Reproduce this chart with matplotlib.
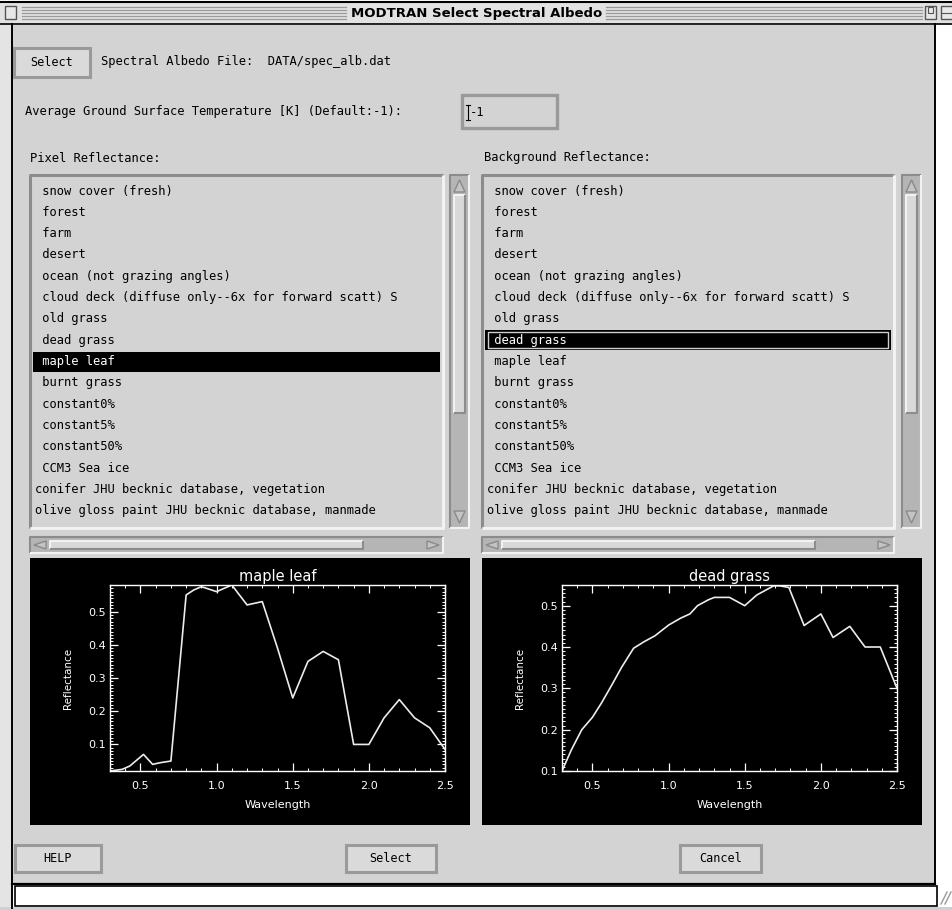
import matplotlib
matplotlib.use("Agg")
import matplotlib.pyplot as plt
from matplotlib.patches import Rectangle, Polygon
from matplotlib.ticker import MultipleLocator

W, H = 953, 910
PANEL = "#d3d3d3"
LIGHT = "#f2f2f2"
DARK = "#8c8c8c"
TROUGH = "#b5b5b5"
MONO = "DejaVu Sans Mono"

WINDOW_TITLE = "MODTRAN Select Spectral Albedo"
FILE_LABEL = "Spectral Albedo File:  DATA/spec_alb.dat"
TEMP_LABEL = "Average Ground Surface Temperature [K] (Default:-1):"
TEMP_VALUE = "-1"
PIXEL_LABEL = "Pixel Reflectance:"
BACKGROUND_LABEL = "Background Reflectance:"

# list entries (leading blank is part of the entry, as in the X list widget)
SURFACES = [
    " snow cover (fresh)",
    " forest",
    " farm",
    " desert",
    " ocean (not grazing angles)",
    " cloud deck (diffuse only--6x for forward scatt) S",
    " old grass",
    " dead grass",
    " maple leaf",
    " burnt grass",
    " constant0%",
    " constant5%",
    " constant50%",
    " CCM3 Sea ice",
    "conifer JHU becknic database, vegetation",
    "olive gloss paint JHU becknic database, manmade",
]
PIXEL_PICK = 8
BACKGROUND_PICK = 7

# spectra (wavelength in micron)
MAPLE_WL = [0.30, 0.38, 0.43, 0.52, 0.58, 0.63, 0.70, 0.80, 0.85, 0.90,
            1.00, 1.10, 1.20, 1.30, 1.40, 1.50, 1.60, 1.70, 1.80, 1.90,
            2.00, 2.10, 2.20, 2.30, 2.40, 2.50]
MAPLE_REFL = [0.020, 0.025, 0.035, 0.070, 0.040, 0.045, 0.050, 0.550, 0.565, 0.575,
              0.560, 0.580, 0.520, 0.530, 0.390, 0.240, 0.350, 0.380, 0.355, 0.100,
              0.100, 0.180, 0.235, 0.180, 0.150, 0.085]

DEAD_WL = [0.30, 0.36, 0.43, 0.50, 0.56, 0.63, 0.69, 0.77, 0.84, 0.91,
           1.00, 1.08, 1.14, 1.19, 1.26, 1.30, 1.40, 1.50, 1.58, 1.65,
           1.69, 1.73, 1.79, 1.89, 2.00, 2.08, 2.19, 2.29, 2.39, 2.50]
DEAD_REFL = [0.100, 0.150, 0.200, 0.230, 0.265, 0.310, 0.350, 0.397, 0.413, 0.427,
             0.453, 0.470, 0.480, 0.500, 0.514, 0.520, 0.520, 0.500, 0.526, 0.540,
             0.548, 0.548, 0.544, 0.452, 0.480, 0.423, 0.450, 0.400, 0.400, 0.300]

X_TICKS = [0.5, 1.0, 1.5, 2.0, 2.5]
Y_TICKS = [0.1, 0.2, 0.3, 0.4, 0.5]


def fig_rect(x0, y0, x1, y1):
    return [x0 / W, 1 - y1 / H, (x1 - x0) / W, (y1 - y0) / H]


def bevel(ax, x0, y0, x1, y1, face=PANEL, sunken=False, lw=1.5):
    ax.add_patch(Rectangle((x0, y0), x1 - x0, y1 - y0, facecolor=face, edgecolor="none"))
    hi, lo = (DARK, LIGHT) if sunken else (LIGHT, DARK)
    ax.plot([x0, x0, x1], [y1, y0, y0], color=hi, lw=lw, solid_capstyle="butt")
    ax.plot([x0, x1, x1], [y1, y1, y0], color=lo, lw=lw, solid_capstyle="butt")


def button(ax, x0, y0, x1, y1, label):
    ax.add_patch(Rectangle((x0, y0), x1 - x0, y1 - y0, facecolor="#dadada",
                           edgecolor="#9a9a9a", lw=2.2))
    ax.text((x0 + x1) / 2, (y0 + y1) / 2, label, family=MONO, fontsize=8.5,
            ha="center", va="center", color="black")


def arrow(ax, pts):
    ax.add_patch(Polygon(pts, closed=True, facecolor="#c4c4c4", edgecolor="#8a8a8a", lw=1))


def vscroll(ax, x0, y0, x1, y1, t0, t1):
    bevel(ax, x0, y0, x1, y1, face=TROUGH, sunken=True)
    xc = (x0 + x1) / 2
    arrow(ax, [(xc, y0 + 5), (x0 + 4, y0 + 17), (x1 - 4, y0 + 17)])
    arrow(ax, [(xc, y1 - 5), (x0 + 4, y1 - 17), (x1 - 4, y1 - 17)])
    bevel(ax, x0 + 4, t0, x1 - 4, t1, face="#d9d9d9")


def hscroll(ax, x0, y0, x1, y1, t0, t1):
    bevel(ax, x0, y0, x1, y1, face=TROUGH, sunken=True)
    yc = (y0 + y1) / 2
    arrow(ax, [(x0 + 4, yc), (x0 + 16, y0 + 4), (x0 + 16, y1 - 4)])
    arrow(ax, [(x1 - 4, yc), (x1 - 16, y0 + 4), (x1 - 16, y1 - 4)])
    bevel(ax, t0, y0 + 4, t1, y1 - 4, face="#d9d9d9")


def listbox(ax, x0, y0, x1, y1, items, pick, focus=False):
    bevel(ax, x0, y0, x1, y1, sunken=True, lw=2.2)
    clip = Rectangle((x0 + 2, y0), x1 - x0 - 4, y1 - y0, transform=ax.transData)
    step = 21.33
    for i, name in enumerate(items):
        yc = y0 + 16 + i * step
        color = "black"
        if i == pick:
            ax.add_patch(Rectangle((x0 + 3, yc - 10), x1 - x0 - 6, 20,
                                   facecolor="black", edgecolor="none"))
            if focus:
                ax.add_patch(Rectangle((x0 + 6, yc - 8), x1 - x0 - 12, 16,
                                       facecolor="none", edgecolor="#cfcfcf", lw=1))
            color = "white"
        t = ax.text(x0 + 5, yc, name, family=MONO, fontsize=8.7,
                    ha="left", va="center", color=color)
        t.set_clip_path(clip)


def spectrum(fig, box, axbox, wl, refl, title, ylim):
    bg = fig.add_axes(fig_rect(*box))
    bg.set_facecolor("black")
    bg.set_xticks([])
    bg.set_yticks([])
    for s in bg.spines.values():
        s.set_visible(False)

    ax = fig.add_axes(fig_rect(*axbox))
    ax.set_facecolor("black")
    ax.plot(wl, refl, color="#ececec", lw=1.2)
    ax.set_xlim(0.3, 2.5)
    ax.set_ylim(*ylim)
    ax.set_xticks(X_TICKS)
    ax.set_xticklabels([f"{v:.1f}" for v in X_TICKS])
    ax.set_yticks(Y_TICKS)
    ax.set_yticklabels([f"{v:.1f}" for v in Y_TICKS])
    ax.xaxis.set_minor_locator(MultipleLocator(0.1))
    ax.yaxis.set_minor_locator(MultipleLocator(0.01))
    ax.tick_params(which="both", direction="in", colors="white",
                   top=True, right=True, labelsize=8)
    ax.tick_params(which="major", length=6, width=0.9)
    ax.tick_params(which="minor", length=2.5, width=0.7)
    ax.tick_params(axis="x", pad=7)
    ax.tick_params(axis="y", pad=3)
    for s in ax.spines.values():
        s.set_color("white")
        s.set_linewidth(1.0)
    ax.set_title(title, color="white", fontsize=10.5, pad=3)
    ax.set_xlabel("Wavelength", color="white", fontsize=8)
    ax.set_ylabel("Reflectance", color="white", fontsize=7.5)
    ax.xaxis.set_label_coords(0.5, -0.185)
    ax.xaxis.label.set_va("center")
    ax.yaxis.set_label_coords(-0.125, 0.5)
    ax.yaxis.label.set_va("center")


def main():
    fig = plt.figure(figsize=(W / 100, H / 100), dpi=100)
    fig.patch.set_facecolor("white")
    ax = fig.add_axes([0, 0, 1, 1])
    ax.set_xlim(0, W)
    ax.set_ylim(H, 0)
    ax.axis("off")

    # window title bar
    ax.add_patch(Rectangle((0, 2), W, 22, facecolor="#e2e2e2", edgecolor="none"))
    ax.plot([0, W], [2, 2], color="black", lw=1.5)
    ax.plot([0, W], [24, 24], color="black", lw=1.2)
    for yy in (7, 10, 13, 16, 19):
        ax.plot([22, 346], [yy, yy], color="#9a9a9a", lw=0.9)
        ax.plot([606, 922], [yy, yy], color="#9a9a9a", lw=0.9)
    ax.add_patch(Rectangle((5, 6), 11, 13, facecolor="#e8e8e8", edgecolor="#555555", lw=1))
    ax.add_patch(Rectangle((925, 6), 11, 13, facecolor="#e8e8e8", edgecolor="#555555", lw=1))
    ax.add_patch(Rectangle((928, 7), 5, 6, facecolor="none", edgecolor="#555555", lw=0.8))
    ax.add_patch(Rectangle((941, 6), 14, 13, facecolor="#e8e8e8", edgecolor="#555555", lw=1))
    ax.plot([941, 953], [12.5, 12.5], color="#555555", lw=0.8)
    ax.text(W / 2, 13, WINDOW_TITLE, ha="center", va="center", fontsize=9.5,
            fontweight="bold", family="DejaVu Sans", color="black")

    # window body
    ax.add_patch(Rectangle((0, 24), 11, H - 24, facecolor="#e4e4e4", edgecolor="none"))
    ax.add_patch(Rectangle((12, 25), 923, 858, facecolor=PANEL, edgecolor="none"))
    ax.plot([12, 12], [24, 908], color="black", lw=1.4)
    ax.plot([935, 935], [24, 884], color="black", lw=1.4)
    ax.plot([12, 935], [884, 884], color="black", lw=1.6)
    ax.add_patch(Rectangle((15, 886), 922, 20, facecolor="white", edgecolor="black", lw=1.2))
    ax.add_patch(Rectangle((0, 907), W, 3, facecolor="#d0d0d0", edgecolor="none"))
    for dx in (0, 4):
        ax.plot([941 + dx, 947 + dx], [904, 892], color="#999999", lw=1)

    # file row
    button(ax, 14, 48, 90, 77, "Select")
    ax.text(101, 62, FILE_LABEL, family=MONO, fontsize=8.7, ha="left", va="center")

    # temperature row
    ax.text(25, 112, TEMP_LABEL, family=MONO, fontsize=8.7, ha="left", va="center")
    ax.add_patch(Rectangle((462, 95), 95, 33, facecolor=PANEL, edgecolor="#9a9a9a", lw=2.4))
    ax.plot([468, 468], [105, 120], color="black", lw=0.8)
    ax.plot([466, 470], [105, 105], color="black", lw=0.8)
    ax.plot([466, 470], [120, 120], color="black", lw=0.8)
    ax.text(470, 112, TEMP_VALUE, family=MONO, fontsize=8.7, ha="left", va="center")

    # list boxes
    ax.text(30, 158, PIXEL_LABEL, family=MONO, fontsize=8.7, ha="left", va="center")
    ax.text(484, 158, BACKGROUND_LABEL, family=MONO, fontsize=8.7, ha="left", va="center")
    listbox(ax, 30, 175, 443, 528, SURFACES, PIXEL_PICK)
    listbox(ax, 482, 175, 894, 528, SURFACES, BACKGROUND_PICK, focus=True)
    vscroll(ax, 450, 175, 469, 528, 195, 413)
    vscroll(ax, 902, 175, 921, 528, 195, 413)
    hscroll(ax, 30, 537, 443, 553, 50, 363)
    hscroll(ax, 482, 537, 894, 553, 502, 815)

    # bottom buttons
    button(ax, 15, 845, 101, 872, "HELP")
    button(ax, 346, 845, 436, 872, "Select")
    button(ax, 680, 845, 761, 872, "Cancel")

    spectrum(fig, (30, 558, 470, 825), (110, 585, 445, 771),
             MAPLE_WL, MAPLE_REFL, SURFACES[PIXEL_PICK].strip(), (0.02, 0.58))
    spectrum(fig, (482, 558, 922, 825), (562, 585, 897, 771),
             DEAD_WL, DEAD_REFL, SURFACES[BACKGROUND_PICK].strip(), (0.1, 0.55))

    fig.savefig("out.png", dpi=100, facecolor=fig.get_facecolor())
    plt.close(fig)


if __name__ == "__main__":
    main()
